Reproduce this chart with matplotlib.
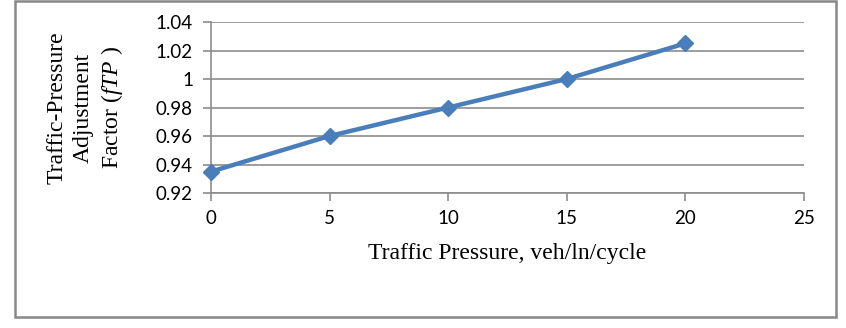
import matplotlib
matplotlib.use("Agg")
import matplotlib.pyplot as plt
from matplotlib.patches import Rectangle

x_vals = [0, 5, 10, 15, 20]
y_vals = [0.935, 0.96, 0.98, 1.0, 1.025]
x_ticks = [0, 5, 10, 15, 20, 25]
y_ticks = [0.92, 0.94, 0.96, 0.98, 1.00, 1.02, 1.04]
y_tick_labels = ["0.92", "0.94", "0.96", "0.98", "1", "1.02", "1.04"]

plt.rcParams['mathtext.fontset'] = 'custom'
plt.rcParams['mathtext.rm'] = 'Liberation Serif'
plt.rcParams['mathtext.it'] = 'Liberation Serif:italic'

fig = plt.figure(figsize=(8.46, 3.28), dpi=100)
fig.patches.append(Rectangle((15/846, 1-317/328), (836-15)/846, (317-1)/328,
                             transform=fig.transFigure, fill=False,
                             edgecolor='#888888', linewidth=1.8))
ax = fig.add_axes([211/846, 1-193/328, (804-211)/846, (193-22)/328])

line_color = '#4a7ebb'
ax.plot(x_vals, y_vals, color=line_color, linewidth=3.2, marker='D',
        markersize=8.5, markerfacecolor=line_color, markeredgecolor=line_color,
        zorder=3, clip_on=False)

ax.set_xlim(0, 25)
ax.set_ylim(0.92, 1.04)
ax.set_xticks(x_ticks)
ax.set_yticks(y_ticks)
ax.set_yticklabels(y_tick_labels)
ax.yaxis.grid(True, color='#8c8c8c', linewidth=1.2)
ax.set_axisbelow(True)
for s in ['top', 'right']:
    ax.spines[s].set_visible(False)
for s in ['left', 'bottom']:
    ax.spines[s].set_color('#8c8c8c')
    ax.spines[s].set_linewidth(1.2)
ax.tick_params(axis='both', direction='out', length=6, color='#8c8c8c', width=1.2,
               labelsize=13.5)
ax.tick_params(axis='x', pad=6)
ax.tick_params(axis='y', pad=7)
for lab in ax.get_xticklabels() + ax.get_yticklabels():
    lab.set_fontfamily('Lato')

ax.set_xlabel('Traffic Pressure, veh/ln/cycle', fontfamily='Liberation Serif',
              fontsize=17, labelpad=12)
ax.set_ylabel('Traffic-Pressure\nAdjustment\nFactor ($\\it{fTP}$ )',
              fontfamily='Liberation Serif', fontsize=17, labelpad=22,
              linespacing=1.3)

fig.savefig('out.png', dpi=100)
